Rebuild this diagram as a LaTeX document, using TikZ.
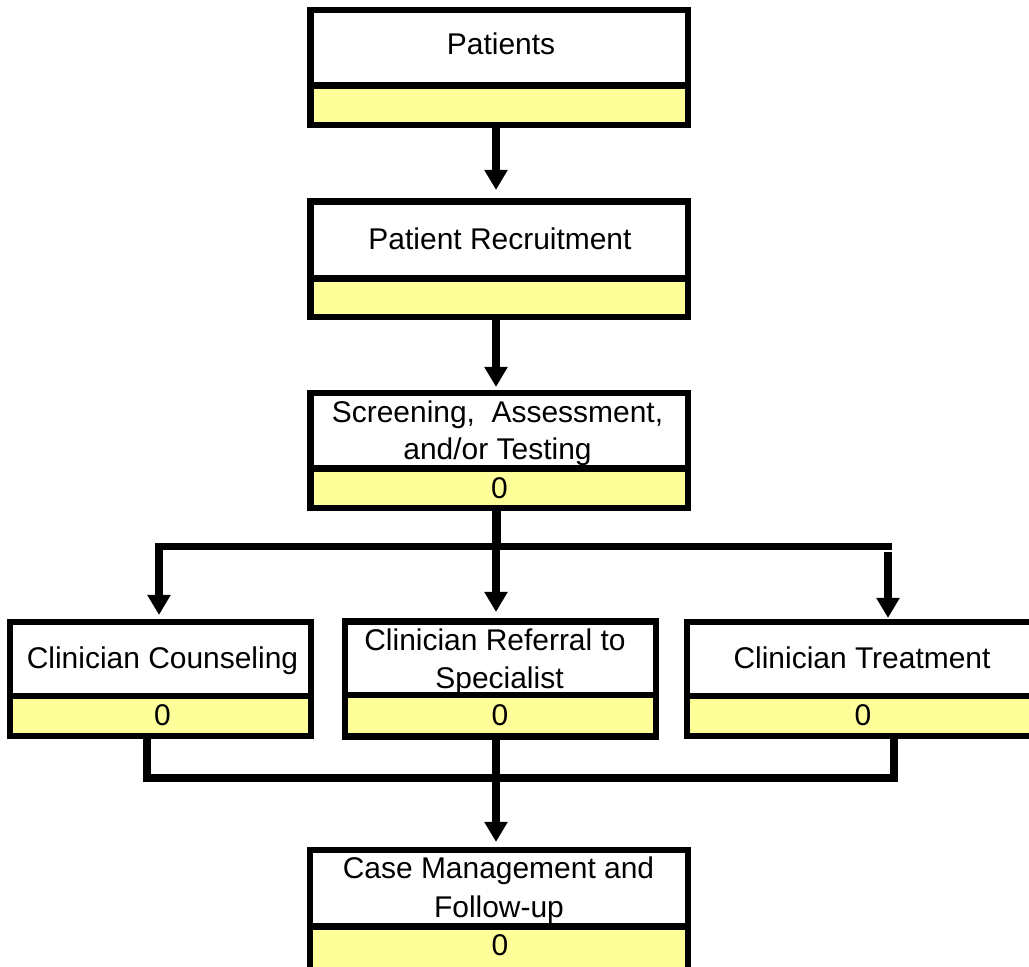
\documentclass[tikz,border=0pt]{standalone}
\usepackage{fontspec}
\setmainfont{Liberation Sans}
\usetikzlibrary{arrows.meta}
\definecolor{ylw}{HTML}{FFFF99}
\begin{document}
\begin{tikzpicture}[x=0.025cm,y=-0.025cm,
  box/.style={draw, line width=0.1625cm, fill=white, inner sep=0pt, outer sep=0pt, rectangle},
  ybot/.style={path picture={
     \fill[ylw] (path picture bounding box.south west) rectangle ([yshift=#1]path picture bounding box.south east);
     \draw[line width=0.1625cm] ([yshift=#1]path picture bounding box.south west) -- ([yshift=#1]path picture bounding box.south east);}},
  lbl/.style={anchor=base, inner sep=0pt, font=\fontsize{21.3}{27}\selectfont},
  conn/.style={line width=0.1875cm, line join=miter},
  arr/.style={conn, -{Triangle[width=0.55cm,length=0.5cm]}}
]
\useasboundingbox (0,0) rectangle (1029,966);

% boxes
\node[box, ybot=0.9875cm, minimum width=9.4375cm, minimum height=2.875cm] (A) at (499.25,67.5) {};
\node[box, ybot=0.9625cm, minimum width=9.4375cm, minimum height=2.8875cm] (B) at (499.25,259.25) {};
\node[box, ybot=0.9875cm, minimum width=9.4375cm, minimum height=2.875cm] (C) at (499.25,450.5) {};
\node[box, ybot=1.0cm, minimum width=7.525cm, minimum height=2.85cm] (D) at (160.5,679) {};
\node[box, ybot=1.0375cm, minimum width=7.775cm, minimum height=2.875cm] (E) at (500.5,679) {};
\node[box, ybot=1.0cm, minimum width=8.75cm, minimum height=2.85cm] (F) at (862,679) {};
\node[box, ybot=1.1375cm, minimum width=9.45cm, minimum height=3.05cm] (G) at (499,911) {};

% texts
\node[lbl] (tA) at (501,55) {Patients};
\node[lbl] (tB) at (500,249) {Patient Recruitment};
\node[lbl] (tC1) at (497.5,422) {Screening,\ \ Assessment,};
\node[lbl] (tC2) at (497.5,459) {and/or Testing};
\node[lbl] (vC) at (499.5,498) {0};
\node[lbl] (tD) at (162.5,668) {Clinician Counseling};
\node[lbl] (vD) at (162.5,725) {0};
\node[lbl] (tE1) at (495,650) {Clinician Referral to};
\node[lbl] (tE2) at (499.5,688) {Specialist};
\node[lbl] (vE) at (500,725) {0};
\node[lbl] (tF) at (862,668) {Clinician Treatment};
\node[lbl] (vF) at (863,725) {0};
\node[lbl] (tG1) at (498.5,878) {Case Management and};
\node[lbl] (tG2) at (499,917) {Follow-up};
\node[lbl] (vG) at (500,955) {0};

% connector points
\coordinate (c1) at (496,0);
\coordinate (c2) at (497,0);
\coordinate (busL) at (159,546.5);
\coordinate (busR) at (892,546.5);
\coordinate (busM) at (497,546.5);
\coordinate (rx) at (888,552);
\coordinate (mL) at (147,778);
\coordinate (mR) at (894,778);
\coordinate (mRtop) at (894,733);

% connectors
\draw[arr, shorten >=0.2875cm] (A.south -| c1) -- (B.north -| c1);
\draw[arr, shorten >=0.15cm] (B.south -| c1) -- (C.north -| c1);
\draw[conn] (C.south -| c2) -- (busM);
\draw[arr, shorten >=0.175cm] (busR) -- (busL) -- (D.north -| busL);
\draw[arr, shorten >=0.2375cm] (C.south -| c1) -- (E.north -| c1);
\draw[arr, shorten >=0.1cm] (rx) -- (F.north -| rx);
\draw[conn] (D.south -| mL) -- (mL) -- (mR) -- (mRtop);
\draw[arr, shorten >=0.2cm] (E.south -| c1) -- (G.north -| c1);
\end{tikzpicture}
\end{document}
